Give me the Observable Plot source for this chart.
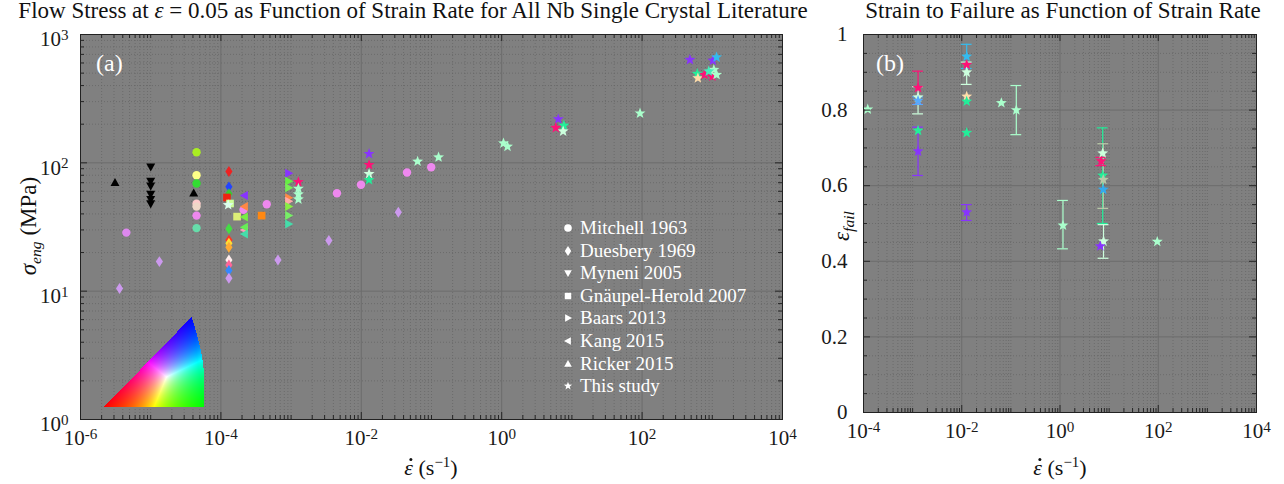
<!DOCTYPE html>
<html><head><meta charset="utf-8">
<script src="https://cdn.jsdelivr.net/npm/d3@7"></script>
<script src="https://cdn.jsdelivr.net/npm/@observablehq/plot@0.6"></script>
<style>
body{margin:0;background:#fff;width:1284px;height:484px;overflow:hidden;font-family:"Liberation Serif",serif;}
#wrap{position:relative;width:1284px;height:484px;}
.abs{position:absolute;white-space:nowrap;line-height:1;}
.title{font-size:23px;color:#111;text-align:center;line-height:19px;}
.lab{font-size:22px;color:#111;}
.leg{position:absolute;white-space:nowrap;color:#fff;font-size:19px;line-height:22px;}
.panel{color:#fff;font-size:24px;}
sub{font-size:0.68em;vertical-align:-0.3em;}
sup{font-size:0.68em;vertical-align:0.55em;}
.edot{position:relative;display:inline-block;}
.edot .dm{position:absolute;left:0.22em;top:0.02em;width:3px;height:3px;border-radius:50%;background:#111;}
</style></head><body><div id="wrap"></div>
<script>
// ---------- tick labels / text ----------
const xMajorA = [1e-6, 1e-4, 1e-2, 1, 1e2, 1e4];
const yMajorA = [1, 10, 100, 1000];
const xMajorB = [1e-4, 1e-2, 1, 1e2, 1e4];
const yMajorB = [0, 0.2, 0.4, 0.6, 0.8, 1];
const legendLabels = ["Mitchell 1963", "Duesbery 1969", "Myneni 2005", "Gnäupel-Herold 2007", "Baars 2013", "Kang 2015", "Ricker 2015", "This study"];

// ---------- panel (a): [strain rate 1/s, flow stress MPa, IPF colour] ----------
const mitchell = [
  [4.5e-5, 121, "#aaee22"], [4.5e-5, 80, "#ffff88"], [4.5e-5, 69, "#33dd33"], [4.5e-5, 48, "#ffcccc"],
  [4.5e-5, 45.6, "#f0d8c8"], [4.5e-5, 38.8, "#ee88ee"], [4.5e-5, 31, "#66ddaa"],
  [4.5e-6, 28.6, "#dd88ee"], [2.1e-4, 43, "#ee88ee"], [4.5e-4, 47.6, "#ee88ee"], [4.5e-3, 58, "#ee88ee"],
  [9.9e-3, 67.4, "#ee88ee"], [0.0448, 84, "#ee88ee"], [0.099, 92.4, "#ee88ee"]
];
const duesbery = [
  [3.6e-6, 10.5, "#cc99ee"], [1.33e-5, 17, "#cc99ee"],
  [1.3e-4, 85.5, "#ee2222"], [1.3e-4, 65, "#2244ff"], [1.3e-4, 57.5, "#33cc33"], [1.3e-4, 30.6, "#44dd44"],
  [1.3e-4, 25, "#ff3322"], [1.3e-4, 23.6, "#ffdd33"], [1.3e-4, 22, "#ffaa33"], [1.3e-4, 17.5, "#ffeeee"],
  [1.3e-4, 16, "#ff6699"], [1.3e-4, 14.5, "#3388ff"], [1.3e-4, 12.6, "#cc99ee"],
  [6.5e-4, 17.5, "#cc99ee"], [3.45e-3, 24.8, "#cc99ee"], [0.0337, 41.2, "#cc99ee"]
];
const myneni = [[1e-5, 93, "#000"], [1e-5, 72, "#000"], [1e-5, 66, "#000"], [1e-5, 57, "#000"], [1e-5, 52, "#000"], [1e-5, 48, "#000"]];
const gnaupel = [[1.22e-4, 53.7, "#ee2211"], [1.35e-4, 48.2, "#ccff99"], [1.7e-4, 38.1, "#ddee77"], [3.8e-4, 38.8, "#ff8811"]];
const baars = [
  [9.2e-4, 83, "#8833ff"], [9.2e-4, 72, "#66ee44"], [9.2e-4, 64, "#77ee55"], [9.2e-4, 53.4, "#ff8844"],
  [9.2e-4, 50.2, "#ffaaaa"], [9.2e-4, 45.6, "#88ee44"], [9.2e-4, 38.8, "#77ee66"], [9.2e-4, 33.4, "#44ddaa"]
];
const kang = [
  [2.17e-4, 55.6, "#8833ff"], [2.17e-4, 45.6, "#ff8844"], [2.17e-4, 37.8, "#77ee44"],
  [2.17e-4, 30, "#ff99bb"], [2.17e-4, 31.5, "#66ee55"], [2.17e-4, 27.9, "#44ddaa"]
];
const ricker = [[3.1e-6, 70, "#000"], [4.1e-5, 58, "#000"]];
const thisStudy = [
  [1.27e-4, 47, "#ddffee"],
  [1.27e-3, 71, "#ff1177"], [1.27e-3, 63, "#aaffcc"], [1.27e-3, 57, "#aaffcc"], [1.27e-3, 52, "#aaffcc"],
  [0.0129, 117.5, "#8833ff"], [0.0129, 96.4, "#ff1177"], [0.0129, 82, "#ccffdd"], [0.0129, 73.6, "#22ee99"],
  [0.0634, 102.5, "#aaffcc"], [0.126, 110.6, "#aaffcc"],
  [1.06, 142, "#aaffcc"], [1.21, 134, "#aaffcc"],
  [6.4, 219, "#8833ff"], [5.9, 187.5, "#ff1177"], [7.7, 195.5, "#22ee99"], [7.5, 176, "#ccffdd"],
  [93.4, 243, "#aaffcc"],
  [480, 636, "#8833ff"], [1018, 627, "#8833ff"], [1150, 665, "#33bbee"], [611, 494, "#22ee99"],
  [623, 457, "#ffddaa"], [777, 486, "#ff1177"], [1000, 471, "#ff1177"], [1052, 531, "#aaffcc"],
  [1150, 486, "#aaffcc"], [891, 517, "#44eebb"]
];

// ---------- panel (b): [strain rate, strain to failure, low, high, colour] ----------
const failure = [
  [1.22e-4, 0.802, null, null, "#aaffcc"],
  [1.29e-3, 0.859, 0.815, 0.903, "#ff1177"],
  [1.29e-3, 0.834, 0.790, 0.862, "#ccffdd"],
  [1.29e-3, 0.825, 0.815, 0.835, "#55aaff"],
  [1.29e-3, 0.746, null, null, "#22ee99"],
  [1.29e-3, 0.691, 0.627, 0.755, "#8833ff"],
  [0.0126, 0.942, 0.91, 0.974, "#33bbee"],
  [0.0126, 0.920, null, null, "#ff1177"],
  [0.0126, 0.900, 0.868, 0.927, "#ccffdd"],
  [0.0126, 0.836, null, null, "#ffddaa"],
  [0.0126, 0.823, null, null, "#22ee99"],
  [0.0126, 0.740, null, null, "#22ee99"],
  [0.0126, 0.530, 0.508, 0.550, "#8833ff"],
  [0.064, 0.819, null, null, "#aaffcc"],
  [0.129, 0.800, 0.735, 0.865, "#aaffcc"],
  [1.15, 0.495, 0.433, 0.561, "#aaffcc"],
  [7.4, 0.686, null, null, "#ccffdd"],
  [6.9, 0.665, 0.653, 0.675, "#ff1177"],
  [7.4, 0.627, 0.50, 0.753, "#22ee99"],
  [7.6, 0.616, 0.54, 0.711, "#b8c8a8"],
  [7.6, 0.590, null, null, "#33aaee"],
  [7.7, 0.453, 0.408, 0.497, "#ccffdd"],
  [6.6, 0.440, null, null, "#8833ff"],
  [95.5, 0.452, null, null, "#aaffcc"]
];

// ---------- symbols ----------
const rad = s => Math.sqrt(s / Math.PI);
const sym = {
  circle: {draw(c, s) { const r = rad(s); c.moveTo(r, 0); c.arc(0, 0, r, 0, 2 * Math.PI); }},
  triUp: {draw(c, s) { const r = rad(s); c.moveTo(0, -r * 1.05); c.lineTo(r, r * 0.75); c.lineTo(-r, r * 0.75); c.closePath(); }},
  triDown: {draw(c, s) { const r = rad(s); c.moveTo(0, r * 1.05); c.lineTo(r, -r * 0.75); c.lineTo(-r, -r * 0.75); c.closePath(); }},
  triRight: {draw(c, s) { const r = rad(s); c.moveTo(r * 1.05, 0); c.lineTo(-r * 0.75, -r); c.lineTo(-r * 0.75, r); c.closePath(); }},
  triLeft: {draw(c, s) { const r = rad(s); c.moveTo(-r * 1.05, 0); c.lineTo(r * 0.75, -r); c.lineTo(r * 0.75, r); c.closePath(); }},
  diamond: {draw(c, s) { const r = rad(s); c.moveTo(0, -r * 1.3); c.lineTo(r * 0.85, 0); c.lineTo(0, r * 1.3); c.lineTo(-r * 0.85, 0); c.closePath(); }},
  square: {draw(c, s) { const r = rad(s) * 0.85; c.rect(-r, -r, 2 * r, 2 * r); }},
  star: {draw(c, s) {
    const R = rad(s) * 1.15, ri = R * 0.42;
    for (let i = 0; i < 10; i++) {
      const a = -Math.PI / 2 + i * Math.PI / 5, rr = i % 2 ? ri : R;
      const px = rr * Math.cos(a), py = rr * Math.sin(a);
      i ? c.lineTo(px, py) : c.moveTo(px, py);
    }
    c.closePath();
  }}
};
const legendSyms = [sym.circle, sym.diamond, sym.triDown, sym.square, sym.triRight, sym.triLeft, sym.triUp, sym.star];

// ---------- helpers ----------
const pow10fmt = d => "10^" + Math.round(Math.log10(d));
function logMinor(lo, hi, majors) {
  const out = [];
  for (let k = lo; k < hi; k++) for (let m = 1; m < 10; m++) {
    const v = +(m * Math.pow(10, k)).toPrecision(6);
    if (!majors.some(M => Math.abs(M - v) / M < 1e-9)) out.push(v);
  }
  return out;
}
// turn "10^k" tick text into 10 with a superscript; labels of a vertical axis
// are centred as a whole (MATLAB style), which lowers the base "10" a little
function fixSup(svg) {
  svg.querySelectorAll("text").forEach(t => {
    const s = t.textContent, i = s.indexOf("^");
    if (i < 0) return;
    const anc = t.closest("[text-anchor]");
    const anchor = (t.getAttribute("text-anchor") || (anc && anc.getAttribute("text-anchor")) || "");
    t.textContent = s.slice(0, i);
    const ts = document.createElementNS("http://www.w3.org/2000/svg", "tspan");
    ts.setAttribute("dy", "-0.42em");
    ts.setAttribute("font-size", "0.72em");
    ts.textContent = s.slice(i + 1);
    t.appendChild(ts);
    if (anchor === "end") {
      const tr = t.getAttribute("transform") || "";
      t.setAttribute("transform", (tr + " translate(0,5)").trim());
    }
  });
}
const GRIDMAJ = "#6c6c6c", GRIDMIN = "#666666", TICK = "#262626", BG = "#808080";
const dot = (data, symbol, r) => Plot.dot(data, {x: d => d[0], y: d => d[1], fill: d => d[2], symbol, r, stroke: "none"});

const wrap = document.getElementById("wrap");
function place(el, x, y) { el.style.position = "absolute"; el.style.left = x + "px"; el.style.top = y + "px"; wrap.appendChild(el); }

const axisStyle = {fontFamily: "'Liberation Serif', serif", fontSize: "21px", color: "#1a1a1a", background: "transparent", overflow: "visible"};

// ---------- panel (a) ----------
{
  const w = 800, h = 484, ml = 80, mr = 18, mt = 34, mb = 65;
  const fw = w - ml - mr, fh = h - mt - mb;
  const minorX = logMinor(-6, 4, xMajorA), minorY = logMinor(0, 3, yMajorA);
  const p = Plot.plot({
    width: w, height: h, marginLeft: ml, marginRight: mr, marginTop: mt, marginBottom: mb,
    style: axisStyle,
    x: {type: "log", domain: [1e-6, 1e4], ticks: xMajorA, tickFormat: pow10fmt, tickSize: 0, tickPadding: 11, label: null},
    y: {type: "log", domain: [1, 1000], ticks: yMajorA, tickFormat: pow10fmt, tickSize: 0, tickPadding: 12, label: null},
    color: {type: "identity"},
    marks: [
      Plot.frame({fill: BG, stroke: null}),
      Plot.ruleX(minorX, {x: d => d, stroke: GRIDMIN, strokeDasharray: "1,2", strokeWidth: 0.8}),
      Plot.ruleY(minorY, {y: d => d, stroke: GRIDMIN, strokeDasharray: "1,2", strokeWidth: 0.8}),
      Plot.ruleX(xMajorA, {x: d => d, stroke: GRIDMAJ, strokeWidth: 1}),
      Plot.ruleY(yMajorA, {y: d => d, stroke: GRIDMAJ, strokeWidth: 1}),
      dot(mitchell, sym.circle, 4.2),
      dot(duesbery, sym.diamond, 4.2),
      dot(myneni, sym.triDown, 4.5),
      dot(gnaupel, sym.square, 4.5),
      dot(baars, sym.triRight, 4.5),
      dot(kang, sym.triLeft, 4.5),
      dot(ricker, sym.triUp, 4.5),
      dot(thisStudy, sym.star, 5),
      Plot.tickX(xMajorA, {x: d => d, insetTop: fh - 7, stroke: TICK}),
      Plot.tickX(xMajorA, {x: d => d, insetBottom: fh - 7, stroke: TICK}),
      Plot.tickX(minorX, {x: d => d, insetTop: fh - 4, stroke: TICK}),
      Plot.tickX(minorX, {x: d => d, insetBottom: fh - 4, stroke: TICK}),
      Plot.tickY(yMajorA, {y: d => d, insetRight: fw - 7, stroke: TICK}),
      Plot.tickY(yMajorA, {y: d => d, insetLeft: fw - 7, stroke: TICK}),
      Plot.tickY(minorY, {y: d => d, insetRight: fw - 4, stroke: TICK}),
      Plot.tickY(minorY, {y: d => d, insetLeft: fw - 4, stroke: TICK}),
      Plot.frame({stroke: "#222", strokeWidth: 1})
    ]
  });
  fixSup(p);
  place(p, 0, 0);
}

// ---------- IPF colour key ----------
{
  const tw = 100, th = 90, topU = 0.876, bulge = 0.05;
  const cells = [];
  const nx = 100, ny = 90;
  for (let j = 0; j < ny; j++) for (let i = 0; i < nx; i++) {
    const u = (i + 0.5) / nx, v = (j + 0.5) / ny;
    const right = 1 - (1 - topU) * v + bulge * Math.sin(Math.PI * v);
    if (u < topU * v || u > right) continue;
    const b = v, g = Math.max(0, u - topU * v), r = Math.max(0, 1 - g - b);
    const m = Math.max(r, g, b);
    cells.push({x1: i / nx, x2: (i + 1) / nx, y1: j / ny, y2: (j + 1) / ny,
      c: d3.rgb(255 * r / m, 255 * g / m, 255 * b / m).formatHex()});
  }
  const k = Plot.plot({
    width: tw, height: th, margin: 0, style: {background: "transparent"},
    x: {domain: [0, 1], axis: null}, y: {domain: [0, 1], axis: null}, color: {type: "identity"},
    marks: [Plot.rect(cells, {x1: "x1", x2: "x2", y1: "y1", y2: "y2", fill: "c", shapeRendering: "crispEdges", inset: -0.3})]
  });
  place(k, 104, 317);
}

// ---------- panel (b) ----------
{
  const w = 484, h = 484, ml = 63, mr = 28, mt = 34, mb = 72;
  const fw = w - ml - mr, fh = h - mt - mb;
  const minorX = logMinor(-4, 4, xMajorB);
  const minorY = d3.range(1, 20).map(i => +(i * 0.05).toFixed(2)).filter(v => Math.abs(v * 5 - Math.round(v * 5)) > 1e-6);
  const bars = failure.filter(d => d[2] != null);
  const capF = Math.pow(10, 0.11);
  const p = Plot.plot({
    width: w, height: h, marginLeft: ml, marginRight: mr, marginTop: mt, marginBottom: mb,
    style: axisStyle,
    x: {type: "log", domain: [1e-4, 1e4], ticks: xMajorB, tickFormat: pow10fmt, tickSize: 0, tickPadding: 11, label: null},
    y: {domain: [0, 1], ticks: yMajorB, tickFormat: d => String(+d.toFixed(1)), tickSize: 0, tickPadding: 16, label: null},
    color: {type: "identity"},
    marks: [
      Plot.frame({fill: BG, stroke: null}),
      Plot.ruleX(minorX, {x: d => d, stroke: GRIDMIN, strokeDasharray: "1,2", strokeWidth: 0.8}),
      Plot.ruleY(minorY, {y: d => d, stroke: GRIDMIN, strokeDasharray: "1,2", strokeWidth: 0.8}),
      Plot.ruleX(xMajorB, {x: d => d, stroke: GRIDMAJ, strokeWidth: 1}),
      Plot.ruleY(yMajorB, {y: d => d, stroke: GRIDMAJ, strokeWidth: 1}),
      Plot.ruleX(bars, {x: d => d[0], y1: d => d[2], y2: d => d[3], stroke: d => d[4], strokeWidth: 1.2}),
      Plot.ruleY(bars, {y: d => d[2], x1: d => d[0] / capF, x2: d => d[0] * capF, stroke: d => d[4], strokeWidth: 1.2}),
      Plot.ruleY(bars, {y: d => d[3], x1: d => d[0] / capF, x2: d => d[0] * capF, stroke: d => d[4], strokeWidth: 1.2}),
      Plot.dot(failure, {x: d => d[0], y: d => d[1], fill: d => d[4], symbol: sym.star, r: 5, stroke: "none"}),
      Plot.tickX(xMajorB, {x: d => d, insetTop: fh - 7, stroke: TICK}),
      Plot.tickX(xMajorB, {x: d => d, insetBottom: fh - 7, stroke: TICK}),
      Plot.tickX(minorX, {x: d => d, insetTop: fh - 4, stroke: TICK}),
      Plot.tickX(minorX, {x: d => d, insetBottom: fh - 4, stroke: TICK}),
      Plot.tickY(yMajorB, {y: d => d, insetRight: fw - 7, stroke: TICK}),
      Plot.tickY(yMajorB, {y: d => d, insetLeft: fw - 7, stroke: TICK}),
      Plot.tickY(minorY, {y: d => d, insetRight: fw - 4, stroke: TICK}),
      Plot.tickY(minorY, {y: d => d, insetLeft: fw - 4, stroke: TICK}),
      Plot.frame({stroke: "#222", strokeWidth: 1})
    ]
  });
  fixSup(p);
  place(p, 800, 0);
}

// ---------- text overlays ----------
function html(tag, cls, inner, x, y, extra) {
  const el = document.createElement(tag);
  el.className = "abs " + cls; el.innerHTML = inner;
  if (extra) Object.assign(el.style, extra);
  place(el, x, y);
  return el;
}
const edot = '<span class="edot"><i>ε</i><span class="dm"></span></span>';
html("div", "title", "Flow Stress at <i>ε</i> = 0.05 as Function of Strain Rate for All Nb Single Crystal Literature", 0, 1, {width: "826px"});
html("div", "title", "Strain to Failure as Function of Strain Rate", 848, 1, {width: "430px"});
html("div", "panel", "(a)", 96, 51);
html("div", "panel", "(b)", 876, 51);
html("div", "lab", edot + " (s<sup>−1</sup>)", 431, 467, {transform: "translate(-50%,-50%)"});
html("div", "lab", edot + " (s<sup>−1</sup>)", 1060, 467, {transform: "translate(-50%,-50%)"});
html("div", "lab", "<i>σ</i><sub><i>eng</i></sub> (MPa)", 30, 226, {transform: "translate(-50%,-50%) rotate(-90deg)", fontSize: "23px"});
html("div", "lab", "<i>ε</i><sub><i>fail</i></sub>", 843, 226, {transform: "translate(-50%,-50%) rotate(-90deg)", fontSize: "23px"});

// legend
legendLabels.forEach((lab, i) => {
  const cy = 228 + 22.6 * i;
  const s = d3.create("svg").attr("width", 14).attr("height", 14).attr("viewBox", "-7 -7 14 14");
  const path = d3.path();
  legendSyms[i].draw(path, Math.PI * 3.8 * 3.8);
  s.append("path").attr("d", path.toString()).attr("fill", "#fff");
  place(s.node(), 561, cy - 7);
  const t = document.createElement("div");
  t.className = "leg"; t.textContent = lab;
  place(t, 580, cy - 11);
});
</script>
</body></html>
